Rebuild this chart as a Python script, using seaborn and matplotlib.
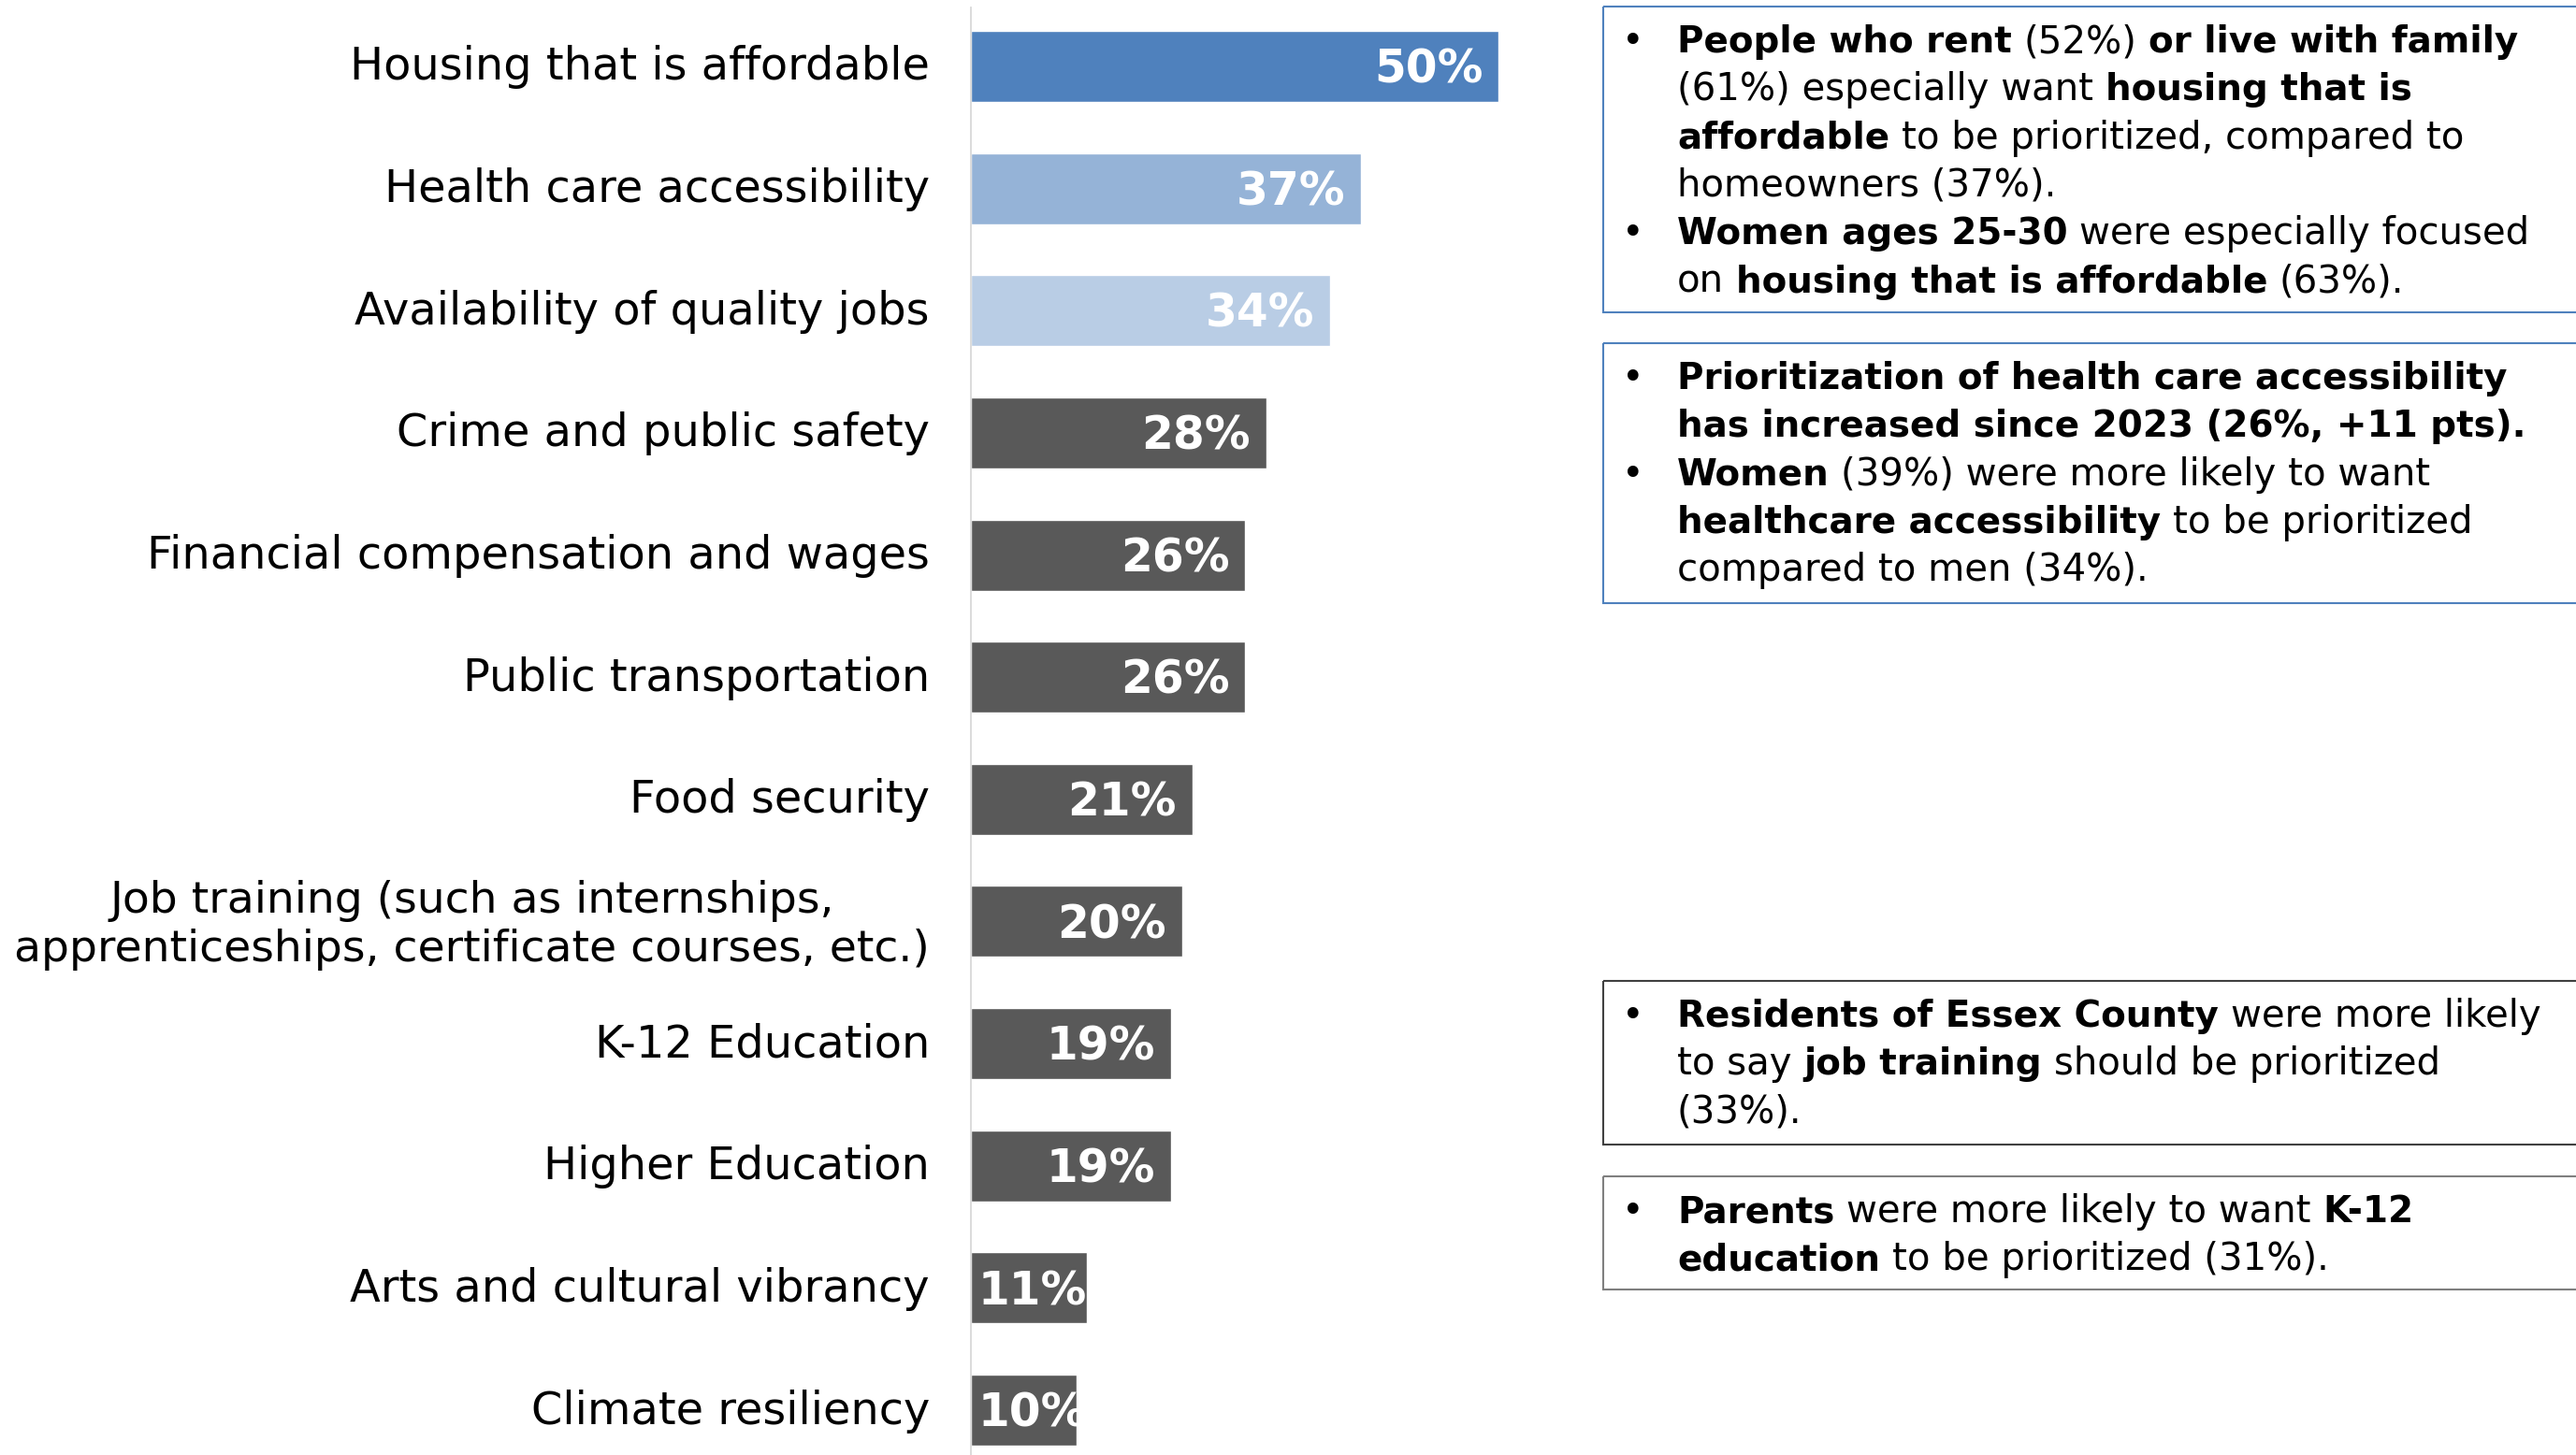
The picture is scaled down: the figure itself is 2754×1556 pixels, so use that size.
import matplotlib
matplotlib.use("Agg")
import matplotlib.pyplot as plt
from matplotlib.patches import Rectangle
from matplotlib.transforms import ScaledTranslation
import pandas as pd
import seaborn as sns

# ---- data -------------------------------------------------------------
categories = [
    "Housing that is affordable",
    "Health care accessibility",
    "Availability of quality jobs",
    "Crime and public safety",
    "Financial compensation and wages",
    "Public transportation",
    "Food security",
    "Job training (such as internships,\napprenticeships, certificate courses, etc.)",
    "K-12 Education",
    "Higher Education",
    "Arts and cultural vibrancy",
    "Climate resiliency",
]
shares = [50, 37, 34, 28, 26, 26, 21, 20, 19, 19, 11, 10]
bar_colors = ["#4F81BD", "#95B3D7", "#B9CDE5"] + ["#595959"] * 9
value_labels = [f"{v}%" for v in shares]

# callout boxes: (top, bottom, border colour, lines); each line is
# (has_bullet, [(text, bold), ...])
callouts = [
    (7, 334, "#4F81BD", [
        (True, [("People who rent", True), (" (52%) ", False), ("or live with family", True)]),
        (False, [("(61%) especially want ", False), ("housing that is", True)]),
        (False, [("affordable", True), (" to be prioritized, compared to", False)]),
        (False, [("homeowners (37%).", False)]),
        (True, [("Women ages 25-30", True), (" were especially focused", False)]),
        (False, [("on ", False), ("housing that is affordable", True), (" (63%).", False)]),
    ]),
    (367, 645, "#4F81BD", [
        (True, [("Prioritization of health care accessibility", True)]),
        (False, [("has increased since 2023 (26%, +11 pts).", True)]),
        (True, [("Women", True), (" (39%) were more likely to want", False)]),
        (False, [("healthcare accessibility", True), (" to be prioritized", False)]),
        (False, [("compared to men (34%).", False)]),
    ]),
    (1049, 1224, "#404040", [
        (True, [("Residents of Essex County", True), (" were more likely", False)]),
        (False, [("to say ", False), ("job training", True), (" should be prioritized", False)]),
        (False, [("(33%).", False)]),
    ]),
    (1258, 1379, "#7F7F7F", [
        (True, [("Parents", True), (" were more likely to want ", False), ("K-12", True)]),
        (False, [("education", True), (" to be prioritized (31%).", False)]),
    ]),
]

# ---- figure -------------------------------------------------------------
W, H, DPI = 2754, 1556, 100
sns.set_theme(style="white")
plt.rcParams["font.family"] = ["DejaVu Sans"]
INK = "#000000"

fig = plt.figure(figsize=(W / DPI, H / DPI), dpi=DPI)
fig.patch.set_facecolor("white")

AX_LEFT, AX_TOP, AX_W = 1038, 8, 677
ax = fig.add_axes([AX_LEFT / W, 0, AX_W / W, (H - AX_TOP) / H])

df = pd.DataFrame({"item": categories, "share": shares})
sns.barplot(data=df, x="share", y="item", hue="item", palette=bar_colors,
            legend=False, width=0.582, saturation=1, ax=ax, orient="h")

XMAX = 60
ax.set_xlim(0, XMAX)
ax.set_ylim(11.367, -0.482)
ax.set_xticks([])
ax.set_xlabel("")
ax.set_ylabel("")
for side in ("top", "right", "bottom"):
    ax.spines[side].set_visible(False)
ax.spines["left"].set_color("#D9D9D9")
ax.spines["left"].set_linewidth(1.3)
ax.tick_params(axis="y", length=0, pad=31.7, labelsize=34.5, labelcolor=INK)
lift = ScaledTranslation(0, 4 / DPI, fig.dpi_scale_trans)
for lab in ax.get_yticklabels():
    lab.set_multialignment("center")
    lab.set_transform(lab.get_transform() + lift)
    if "\n" in lab.get_text():
        lab.set_fontsize(34)

px_per_x = AX_W / XMAX
px_per_y = (H - AX_TOP) / (11.367 + 0.482)
val_size = 35
cap_px = 0.729 * val_size * DPI / 72
pad_units = 17 / px_per_x
inset_units = 8 / px_per_x

# bar patches keyed by their row
bars = {}
for p in ax.patches:
    if p.get_width() > 0:
        row = int(round(p.get_y() + p.get_height() / 2))
        bars[row] = p

value_texts = []
for i, (v, lab) in enumerate(zip(shares, value_labels)):
    t = ax.text(v - pad_units, i + cap_px / 2 / px_per_y, lab, ha="right",
                va="baseline", color="white", fontsize=val_size,
                fontweight="bold")
    if i in bars:
        t.set_clip_on(True)
        t.set_clip_path(bars[i])
    value_texts.append(t)

fig.canvas.draw()
renderer = fig.canvas.get_renderer()
axis_x0 = ax.transData.transform((0, 0))[0]
for i, t in enumerate(value_texts):
    bb = t.get_window_extent(renderer)
    if bb.x0 < axis_x0 + 17:
        # short bars: start the label just inside the bar base instead
        t.set_x(inset_units + bb.width / px_per_x)

# ---- callout boxes on a pixel-space overlay ------------------------------
ov = fig.add_axes([0, 0, 1, 1])
ov.set_xlim(0, W)
ov.set_ylim(H, 0)
ov.axis("off")

BOX_LEFT, BULLET_X, TEXT_X = 1714, 1734, 1793
REG_SIZE, BOLD_SIZE = 29, 28
LINE_STEP = 51.3
FIRST_BASELINE_OFFSET = 49


def run_size(weight):
    return BOLD_SIZE if weight == "bold" else REG_SIZE


def text_width(s, weight):
    t = ov.text(0, 0, s, fontsize=run_size(weight), fontweight=weight)
    w = t.get_window_extent(renderer).width
    t.remove()
    return w


space_w = {}
for wt in ("normal", "bold"):
    space_w[wt] = text_width("n n", wt) - text_width("nn", wt)


def draw_runs(x, y, runs):
    for text, bold in runs:
        weight = "bold" if bold else "normal"
        lead = len(text) - len(text.lstrip(" "))
        trail = len(text) - len(text.rstrip(" "))
        core = text.strip(" ")
        x += lead * space_w[weight]
        t = ov.text(x, y, core, fontsize=run_size(weight), fontweight=weight,
                    ha="left", va="baseline", color=INK)
        x += t.get_window_extent(renderer).width + trail * space_w[weight]


for top, bottom, colour, lines in callouts:
    ov.add_patch(Rectangle((BOX_LEFT, top), 2900 - BOX_LEFT, bottom - top,
                           fill=False, edgecolor=colour, linewidth=1.5))
    y = top + FIRST_BASELINE_OFFSET
    for has_bullet, runs in lines:
        if has_bullet:
            ov.text(BULLET_X, y, "\u2022", fontsize=REG_SIZE, ha="left",
                    va="baseline", color=INK)
        draw_runs(TEXT_X, y, runs)
        y += LINE_STEP

fig.savefig("out.png", dpi=DPI, facecolor="white")
